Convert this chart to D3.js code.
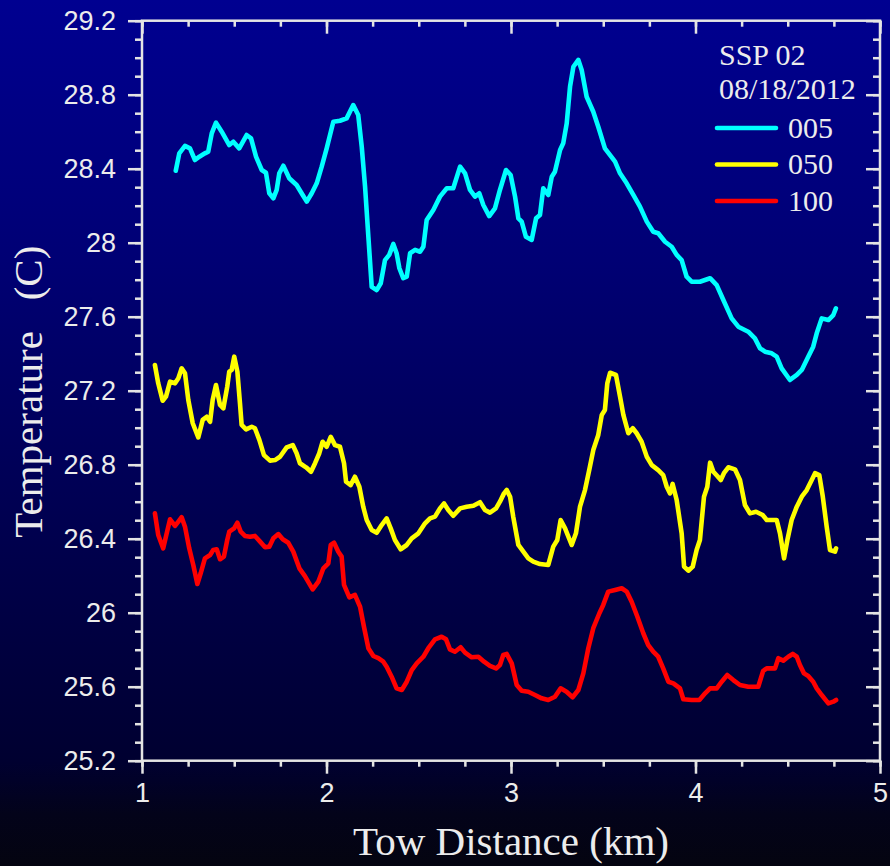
<!DOCTYPE html>
<html>
<head>
<meta charset="utf-8">
<script src="https://cdn.jsdelivr.net/npm/d3@7/dist/d3.min.js"></script>
<style>
  html, body { margin: 0; padding: 0; background: #000; }
  svg { display: block; }
</style>
</head>
<body>
<svg id="chart" width="890" height="866"></svg>
<script>
// Tow distance (km) and temperature (C) along the tow, three sensor depths
const depth005Km = [1.183,1.202,1.233,1.260,1.287,1.311,1.341,1.359,1.378,1.401,1.432,1.473,1.495,1.527,1.567,1.591,1.618,1.649,1.672,1.690,1.712,1.730,1.744,1.766,1.798,1.838,1.871,1.893,1.920,1.947,1.974,2.001,2.037,2.073,2.109,2.145,2.172,2.191,2.209,2.227,2.245,2.272,2.294,2.317,2.340,2.362,2.380,2.395,2.416,2.435,2.453,2.480,2.507,2.525,2.543,2.579,2.615,2.652,2.687,2.724,2.751,2.778,2.805,2.828,2.850,2.882,2.913,2.940,2.973,2.998,3.022,3.040,3.058,3.081,3.112,3.136,3.157,3.175,3.202,3.221,3.238,3.266,3.283,3.302,3.320,3.338,3.365,3.383,3.410,3.446,3.473,3.509,3.564,3.591,3.627,3.663,3.699,3.736,3.771,3.798,3.835,3.871,3.898,3.925,3.952,3.979,4.024,4.079,4.115,4.151,4.196,4.232,4.286,4.322,4.350,4.377,4.413,4.440,4.467,4.512,4.549,4.576,4.611,4.638,4.657,4.684,4.720,4.747,4.761];
const depth005Temp = [28.389,28.483,28.523,28.510,28.447,28.465,28.483,28.492,28.591,28.649,28.600,28.528,28.546,28.510,28.582,28.564,28.465,28.393,28.378,28.267,28.240,28.285,28.375,28.416,28.348,28.312,28.258,28.222,28.267,28.321,28.411,28.510,28.654,28.659,28.672,28.744,28.690,28.519,28.303,28.032,27.762,27.744,27.781,27.906,27.934,27.993,27.943,27.862,27.808,27.816,27.943,27.961,27.951,27.978,28.123,28.177,28.249,28.294,28.294,28.411,28.375,28.285,28.249,28.267,28.204,28.144,28.186,28.285,28.393,28.366,28.249,28.132,28.114,28.032,28.015,28.132,28.150,28.294,28.258,28.357,28.384,28.501,28.537,28.645,28.843,28.951,28.988,28.934,28.789,28.708,28.627,28.510,28.438,28.375,28.321,28.258,28.195,28.114,28.059,28.051,28.005,27.978,27.934,27.906,27.816,27.789,27.789,27.808,27.771,27.690,27.591,27.546,27.519,27.483,27.429,27.411,27.402,27.384,27.321,27.258,27.285,27.312,27.384,27.438,27.510,27.591,27.582,27.609,27.645];

const depth050Km = [1.070,1.088,1.112,1.130,1.152,1.179,1.197,1.215,1.233,1.251,1.275,1.305,1.329,1.351,1.369,1.383,1.401,1.423,1.441,1.462,1.473,1.486,1.500,1.517,1.531,1.540,1.564,1.595,1.612,1.636,1.661,1.694,1.721,1.748,1.784,1.817,1.838,1.856,1.889,1.916,1.938,1.961,1.979,2.001,2.023,2.046,2.073,2.095,2.106,2.131,2.154,2.178,2.199,2.218,2.245,2.272,2.299,2.326,2.348,2.371,2.402,2.435,2.462,2.498,2.534,2.561,2.588,2.615,2.637,2.660,2.687,2.724,2.760,2.796,2.832,2.859,2.886,2.919,2.940,2.962,2.977,2.995,3.012,3.040,3.067,3.094,3.121,3.157,3.202,3.229,3.251,3.269,3.293,3.329,3.352,3.374,3.401,3.424,3.446,3.473,3.492,3.509,3.522,3.537,3.569,3.591,3.609,3.636,3.660,3.681,3.708,3.736,3.763,3.798,3.825,3.844,3.862,3.876,3.898,3.925,3.938,3.961,3.985,4.006,4.024,4.046,4.064,4.079,4.097,4.118,4.137,4.154,4.178,4.214,4.241,4.268,4.295,4.328,4.364,4.386,4.440,4.458,4.480,4.498,4.521,4.549,4.576,4.603,4.630,4.648,4.671,4.690,4.711,4.729,4.756,4.762];
const depth050Temp = [27.339,27.240,27.146,27.168,27.249,27.240,27.267,27.321,27.294,27.150,27.024,26.948,27.042,27.059,27.032,27.150,27.231,27.123,27.105,27.222,27.303,27.312,27.384,27.303,27.132,27.015,26.991,27.005,26.997,26.934,26.852,26.822,26.825,26.843,26.894,26.906,26.862,26.808,26.786,26.762,26.808,26.862,26.924,26.897,26.951,26.906,26.897,26.808,26.708,26.690,26.735,26.681,26.573,26.501,26.447,26.432,26.474,26.510,26.456,26.393,26.343,26.366,26.402,26.429,26.483,26.510,26.519,26.564,26.591,26.555,26.524,26.564,26.573,26.578,26.597,26.555,26.541,26.564,26.600,26.645,26.663,26.627,26.519,26.366,26.330,26.294,26.276,26.263,26.258,26.357,26.393,26.501,26.456,26.366,26.429,26.573,26.663,26.771,26.879,26.961,27.069,27.096,27.240,27.297,27.285,27.168,27.069,26.970,26.997,26.970,26.924,26.843,26.798,26.771,26.744,26.681,26.645,26.696,26.609,26.429,26.249,26.227,26.249,26.339,26.393,26.627,26.681,26.811,26.762,26.739,26.717,26.754,26.786,26.775,26.717,26.582,26.537,26.546,26.528,26.501,26.501,26.429,26.294,26.393,26.501,26.573,26.627,26.663,26.717,26.754,26.744,26.627,26.465,26.339,26.330,26.348];

const depth100Km = [1.070,1.088,1.115,1.134,1.152,1.179,1.197,1.215,1.233,1.256,1.278,1.300,1.318,1.341,1.369,1.386,1.405,1.423,1.444,1.462,1.473,1.499,1.517,1.535,1.558,1.585,1.612,1.640,1.667,1.690,1.712,1.739,1.763,1.793,1.820,1.853,1.883,1.925,1.956,1.983,2.010,2.023,2.041,2.064,2.082,2.095,2.124,2.154,2.182,2.203,2.227,2.254,2.281,2.308,2.326,2.353,2.380,2.408,2.435,2.462,2.489,2.525,2.552,2.588,2.624,2.648,2.669,2.696,2.727,2.751,2.787,2.823,2.854,2.886,2.919,2.940,2.958,2.977,3.004,3.031,3.058,3.094,3.130,3.166,3.202,3.238,3.269,3.301,3.334,3.365,3.392,3.419,3.446,3.479,3.500,3.527,3.564,3.600,3.627,3.654,3.685,3.717,3.744,3.771,3.798,3.825,3.853,3.880,3.916,3.934,3.979,4.021,4.052,4.079,4.115,4.142,4.172,4.205,4.241,4.286,4.340,4.367,4.386,4.431,4.449,4.476,4.503,4.527,4.549,4.566,4.588,4.611,4.638,4.657,4.684,4.720,4.747,4.762];
const depth100Temp = [26.537,26.420,26.348,26.429,26.505,26.469,26.492,26.516,26.465,26.348,26.258,26.155,26.213,26.294,26.312,26.339,26.343,26.289,26.303,26.393,26.438,26.456,26.486,26.438,26.415,26.411,26.415,26.384,26.354,26.357,26.402,26.425,26.397,26.378,26.330,26.240,26.198,26.126,26.168,26.240,26.267,26.366,26.378,26.330,26.303,26.150,26.083,26.096,26.032,25.924,25.808,25.766,25.754,25.735,25.708,25.654,25.591,25.582,25.627,25.690,25.726,25.762,25.808,25.856,25.870,25.856,25.802,25.789,25.813,25.784,25.759,25.762,25.735,25.712,25.699,25.717,25.771,25.777,25.726,25.609,25.578,25.573,25.555,25.537,25.528,25.546,25.591,25.573,25.543,25.582,25.672,25.808,25.916,25.997,26.042,26.114,26.123,26.132,26.114,26.059,25.978,25.889,25.825,25.789,25.762,25.699,25.627,25.618,25.591,25.532,25.528,25.528,25.564,25.591,25.591,25.627,25.663,25.636,25.609,25.600,25.600,25.686,25.699,25.699,25.754,25.741,25.762,25.777,25.762,25.717,25.672,25.658,25.627,25.591,25.555,25.510,25.519,25.528];

const seriesNames = ["005", "050", "100"];
const seriesColors = ["#00ffff", "#ffff00", "#ff0000"];
const legendTitle = ["SSP 02", "08/18/2012"];
const xTickValues = [1, 2, 3, 4, 5];
const yTickLabels = ["25.2", "25.6", "26", "26.4", "26.8", "27.2", "27.6", "28", "28.4", "28.8", "29.2"];

const series = [
  { name: seriesNames[0], color: seriesColors[0], km: depth005Km, temp: depth005Temp },
  { name: seriesNames[1], color: seriesColors[1], km: depth050Km, temp: depth050Temp },
  { name: seriesNames[2], color: seriesColors[2], km: depth100Km, temp: depth100Temp }
];

const W = 890, H = 866;
const plot = { left: 142, right: 880, top: 20.7, bottom: 760.7 };
const axisColor = "#e4e4e4";
const textColor = "#ececec";
const serif = "'Liberation Serif', 'Times New Roman', serif";
const sans = "'Liberation Sans', Arial, sans-serif";

const svg = d3.select("#chart");

// Background: deep blue fading to near black
const defs = svg.append("defs");
const grad = defs.append("linearGradient").attr("id", "bg")
  .attr("x1", 0).attr("y1", 0).attr("x2", 0).attr("y2", 1);
[[0, "#000090"], [0.3, "#000074"], [0.6, "#000050"], [0.88, "#000030"], [0.94, "#03031a"], [1, "#040410"]]
  .forEach(([o, c]) => grad.append("stop").attr("offset", o).attr("stop-color", c));
svg.append("rect").attr("width", W).attr("height", H).attr("fill", "url(#bg)");

const x = d3.scaleLinear().domain([1, 5]).range([plot.left, plot.right]);
const y = d3.scaleLinear().domain([25.2, 29.2]).range([plot.bottom, plot.top]);

const xMinor = d3.range(1, 5.0001, 0.25);
const yMinor = d3.range(25.2, 29.2001, 0.1);
const yMajor = yTickLabels.map(Number);

function styleAxis(g) {
  g.select(".domain").remove();
  g.selectAll(".tick line").attr("stroke", axisColor).attr("stroke-width", 2.5);
}

// Frame
svg.append("rect")
  .attr("x", plot.left).attr("y", plot.top)
  .attr("width", plot.right - plot.left).attr("height", plot.bottom - plot.top)
  .attr("fill", "none").attr("stroke", axisColor).attr("stroke-width", 2.5);

// Bottom axis: outward ticks with labels
svg.append("g").attr("transform", `translate(0,${plot.bottom})`)
  .call(d3.axisBottom(x).tickValues(xMinor).tickSize(6).tickFormat(""))
  .call(styleAxis);
svg.append("g").attr("transform", `translate(0,${plot.bottom})`)
  .call(d3.axisBottom(x).tickValues(xTickValues).tickSize(13).tickPadding(9).tickFormat(d3.format("d")))
  .call(styleAxis)
  .call(g => g.selectAll("text").attr("fill", textColor)
    .style("font-family", sans).style("font-size", "27px"));

// Top axis: inward ticks
svg.append("g").attr("transform", `translate(0,${plot.top})`)
  .call(d3.axisBottom(x).tickValues(xMinor).tickSize(6).tickFormat(""))
  .call(styleAxis);
svg.append("g").attr("transform", `translate(0,${plot.top})`)
  .call(d3.axisBottom(x).tickValues(xTickValues).tickSize(13).tickFormat(""))
  .call(styleAxis);

// Left axis: outward ticks with labels
svg.append("g").attr("transform", `translate(${plot.left},0)`)
  .call(d3.axisLeft(y).tickValues(yMinor).tickSize(7).tickFormat(""))
  .call(styleAxis);
svg.append("g").attr("transform", `translate(${plot.left},0)`)
  .call(d3.axisLeft(y).tickValues(yMajor).tickSize(14).tickPadding(12)
    .tickFormat((d, i) => yTickLabels[i]))
  .call(styleAxis)
  .call(g => g.selectAll("text").attr("fill", textColor)
    .style("font-family", sans).style("font-size", "27px"));

// Right axis: inward ticks
svg.append("g").attr("transform", `translate(${plot.right},0)`)
  .call(d3.axisLeft(y).tickValues(yMinor).tickSize(7).tickFormat(""))
  .call(styleAxis);
svg.append("g").attr("transform", `translate(${plot.right},0)`)
  .call(d3.axisLeft(y).tickValues(yMajor).tickSize(14).tickFormat(""))
  .call(styleAxis);

// Axis titles
svg.append("text")
  .attr("x", (plot.left + plot.right) / 2).attr("y", 855)
  .attr("text-anchor", "middle").attr("fill", textColor)
  .style("font-family", serif).style("font-size", "41px")
  .text("Tow Distance (km)");
svg.append("text")
  .attr("transform", `translate(42,${(plot.top + plot.bottom) / 2 + 1}) rotate(-90)`)
  .attr("text-anchor", "middle").attr("fill", textColor)
  .attr("xml:space", "preserve")
  .style("white-space", "pre")
  .style("font-family", serif).style("font-size", "41px")
  .text("Temperature   (C)");

// Temperature traces
const line = d3.line().x(d => x(d[0])).y(d => y(d[1])).curve(d3.curveLinear);
svg.append("g").selectAll("path").data(series).join("path")
  .attr("d", s => line(s.km.map((k, i) => [k, s.temp[i]])))
  .attr("fill", "none")
  .attr("stroke", s => s.color)
  .attr("stroke-width", 4.6)
  .attr("stroke-linejoin", "round")
  .attr("stroke-linecap", "round");

// Legend
const legend = svg.append("g");
legend.selectAll("text.title").data(legendTitle).join("text")
  .attr("class", "title")
  .attr("x", 719).attr("y", (d, i) => 65 + i * 34)
  .attr("fill", textColor)
  .style("font-family", serif).style("font-size", "30px")
  .text(d => d);
const rows = legend.selectAll("g.row").data(series).join("g")
  .attr("class", "row")
  .attr("transform", (d, i) => `translate(0,${128 + i * 36.5})`);
rows.append("line")
  .attr("x1", 717).attr("x2", 776).attr("y1", 0).attr("y2", 0)
  .attr("stroke", d => d.color).attr("stroke-width", 4.6).attr("stroke-linecap", "round");
rows.append("text")
  .attr("x", 788).attr("y", 9.5)
  .attr("fill", textColor)
  .style("font-family", serif).style("font-size", "30px")
  .text(d => d.name);
</script>
</body>
</html>
